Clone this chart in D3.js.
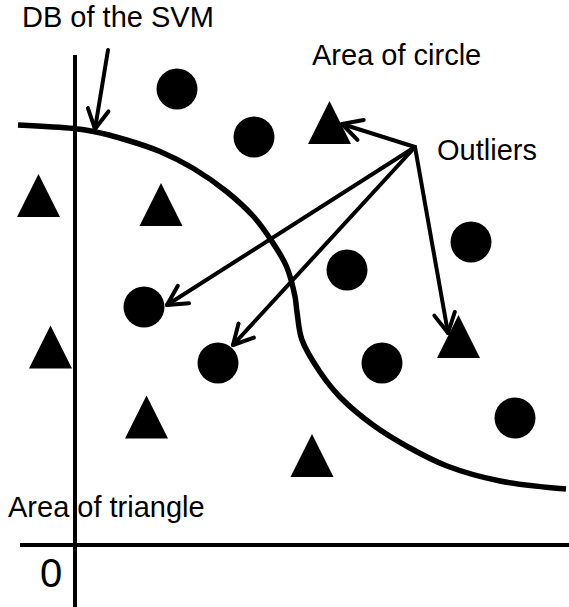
<!DOCTYPE html>
<html>
<head>
<meta charset="utf-8">
<script src="https://cdn.jsdelivr.net/npm/d3@7"></script>
<style>
  html, body { margin: 0; padding: 0; background: #fff; }
  svg { display: block; }
  text { font-family: "Liberation Sans", Arial, Helvetica, sans-serif; fill: #000; }
</style>
</head>
<body>
<div id="chart"></div>
<script>
// class "circle" samples (feature space units, origin at the axes crossing)
const circlePoints = [
    [20.4, 91.2], [35.8, 81.6], [79.2, 60.6], [54.4, 55.0],
    [13.8, 47.6], [28.6, 36.4], [61.4, 36.4], [88.0, 25.4]
];

// class "triangle" samples
const trianglePoints = [
    [-7.3, 69.9], [17.2, 68.1], [50.9, 84.5], [-4.9, 39.6],
    [14.3, 25.6], [47.4, 17.9], [76.7, 41.7]
];

// decision boundary of the SVM
const boundary = [
    [-11.4, 84.0], [-0.3, 83.3], [3.7, 82.7], [10.3, 81.0], [17, 78.7],
    [23.7, 75.3], [30.3, 70.7], [35.7, 65.7], [39, 61.3], [42.3, 55.7],
    [44.0, 49.7], [44.4, 46.6], [45.4, 41.0], [49, 34.6], [53, 29.6],
    [59.6, 24.0], [67, 19.4], [74.4, 15.8], [85, 12.8], [98.2, 11.2]
];

// arrows: [from, to]
const arrows = [
    [[6.6, 99], [4.0, 83.2]],        // DB of the SVM
    [[68, 79.6], [53.4, 84.2]],      // outliers
    [[68, 79.6], [18.4, 48.0]],
    [[68, 79.6], [31.6, 40.0]],
    [[68, 79.6], [74.6, 42.4]]
];

const labels = [
    { text: "DB of the SVM", at: [-10.6, 103.6], big: false },
    { text: "Area of circle", at: [47.4, 96], big: false },
    { text: "Outliers", at: [72.4, 77], big: false },
    { text: "Area of triangle", at: [-13.4, 5.6], big: false },
    { text: "0", at: [-7, -8.4], big: true }
];

const width = 569, height = 607;

const x = d3.scaleLinear().domain([-11, 98.8]).range([20, 569]);
const y = d3.scaleLinear().domain([0, 100]).range([545, 45]);

const svg = d3.select("#chart").append("svg")
    .attr("width", width)
    .attr("height", height);

// open V arrow head
svg.append("defs").append("marker")
    .attr("id", "head")
    .attr("markerUnits", "userSpaceOnUse")
    .attr("orient", "auto")
    .attr("refX", 0).attr("refY", 0)
    .attr("markerWidth", 30).attr("markerHeight", 30)
    .attr("viewBox", "-25 -15 30 30")
    .style("overflow", "visible")
    .append("path")
    .attr("d", "M-19.5,-10.4L0,0L-19.5,10.4")
    .attr("fill", "none")
    .attr("stroke", "#000")
    .attr("stroke-width", 4)
    .attr("stroke-linejoin", "round")
    .attr("stroke-linecap", "round");

// axes
svg.append("line")
    .attr("x1", x(0)).attr("x2", x(0))
    .attr("y1", y(98)).attr("y2", y(-12.4))
    .attr("stroke", "#000").attr("stroke-width", 4);

svg.append("line")
    .attr("x1", x(-11)).attr("x2", x(98.8))
    .attr("y1", y(0)).attr("y2", y(0))
    .attr("stroke", "#000").attr("stroke-width", 4);

// labels
svg.selectAll("text.lbl")
    .data(labels)
    .enter().append("text")
    .attr("class", "lbl")
    .attr("x", d => x(d.at[0]))
    .attr("y", d => y(d.at[1]))
    .attr("font-size", d => d.big ? 40 : 29)
    .text(d => d.text);

// decision boundary
const line = d3.line()
    .x(d => x(d[0]))
    .y(d => y(d[1]))
    .curve(d3.curveCatmullRom);

svg.append("path")
    .datum(boundary)
    .attr("d", line)
    .attr("fill", "none")
    .attr("stroke", "#000")
    .attr("stroke-width", 5.5);

// samples
svg.selectAll("circle.pt")
    .data(circlePoints)
    .enter().append("circle")
    .attr("class", "pt")
    .attr("cx", d => x(d[0]))
    .attr("cy", d => y(d[1]))
    .attr("r", 20.5)
    .attr("fill", "#000");

const tri = (cx, cy) => {
    const h = 43, w = 43;
    return `M${cx},${cy - h / 2}L${cx + w / 2},${cy + h / 2}L${cx - w / 2},${cy + h / 2}Z`;
};

svg.selectAll("path.tri")
    .data(trianglePoints)
    .enter().append("path")
    .attr("class", "tri")
    .attr("d", d => tri(x(d[0]), y(d[1])))
    .attr("fill", "#000");

// arrows
svg.selectAll("line.arrow")
    .data(arrows)
    .enter().append("line")
    .attr("class", "arrow")
    .attr("x1", d => x(d[0][0]))
    .attr("y1", d => y(d[0][1]))
    .attr("x2", d => x(d[1][0]))
    .attr("y2", d => y(d[1][1]))
    .attr("stroke", "#000")
    .attr("stroke-width", 4)
    .attr("stroke-linecap", "round")
    .attr("marker-end", "url(#head)");
</script>
</body>
</html>
